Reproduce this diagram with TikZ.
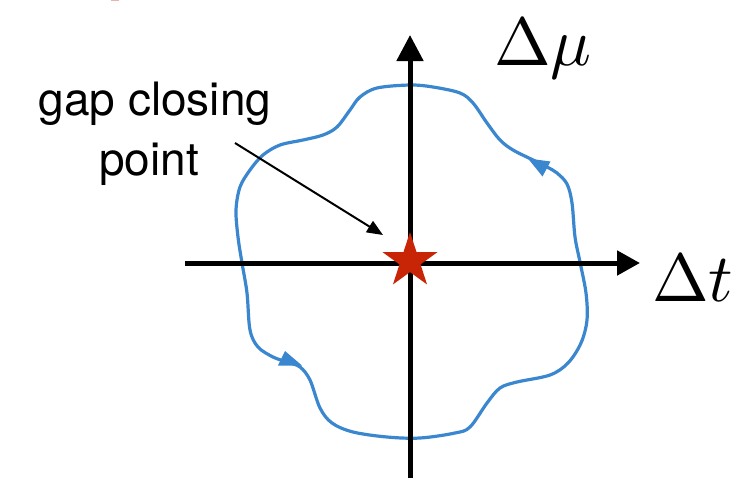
\documentclass[tikz,border=0pt]{standalone}
\usepackage{fontspec}
\usepackage{unicode-math}
\setmathfont{Latin Modern Math}
\newfontfamily\labelfont{TeX Gyre Heros}
\usetikzlibrary{arrows.meta,shapes.geometric}
\definecolor{curveblue}{RGB}{58,135,207}
\definecolor{starred}{RGB}{200,37,6}
\definecolor{pinkmark}{RGB}{240,175,175}
\tikzset{
  axisline/.style={line width=5pt},
  loopline/.style={draw=curveblue, line width=3.2pt},
  looptip/.style={fill=curveblue},
  pointer/.style={line width=2pt, -{Triangle[length=16pt,width=13pt]}},
  caption/.style={font=\labelfont\fontsize{46}{56}\selectfont, inner sep=0pt},
  axlabel/.style={font=\fontsize{68}{72}\selectfont, inner sep=0pt},
  gapstar/.style={star, star points=5, star point ratio=2.618, minimum size=58pt, inner sep=0pt, fill=starred, draw=none},
}
\begin{document}
\begin{tikzpicture}[x=1pt,y=-1pt]
\useasboundingbox (0,0) rectangle (744,491);
\fill[pinkmark] (111,0) rectangle (119,1.2);
% closed loop
\draw[loopline] plot[smooth cycle, tension=0.55] coordinates {
 (410,85) (433,87) (460,93) (473,103) (487,123) (500,140) (513,150) (533,160) (547,167) (557,173) (567,184) (572,203) (575,237) (580,262) (586,293) (587,320) (581,343) (568,363) (550,375) (517,382) (500,388) (487,403) (470,427) (455,433) (420,438) (387,437) (353,432) (332,423) (320,408) (310,380) (300,367) (287,362) (273,357) (258,347) (250,330) (247,293) (242,263) (238,237) (236,210) (240,187) (250,170) (263,155) (280,145) (303,140) (323,135) (337,127) (350,110) (360,97) (377,88)};
\fill[looptip] (528,158.5) -- (550.5,161.5) -- (542.5,176.5) -- cycle;
\fill[looptip] (302,365.5) -- (285,351) -- (278,365.5) -- cycle;
% axes
\coordinate (xl) at (185,263);
\coordinate (xr) at (640,263);
\coordinate (yb) at (410,478);
\coordinate (yt) at (410,35);
\draw[axisline, -{Triangle[length=23pt,width=24pt]}] (xl) -- (xr);
\draw[axisline, -{Triangle[length=26pt,width=26pt]}] (yb) -- (yt);
\node[axlabel, anchor=base west] (mulabel) at (494,65) {$\Delta\mu$};
\node[axlabel, anchor=base west] (tlabel) at (652,301) {$\Delta t$};
% star
\node[gapstar] (gcp) at (410,261) {};
% caption
\node[caption, anchor=base] (cap1) at (155,115.5) {gap closing};
\node[caption, anchor=base] (cap2) at (149,175) {point};
\coordinate (ptrstart) at (235,143);
\coordinate (ptrend) at (383,235);
\draw[pointer] (ptrstart) -- (ptrend);
\end{tikzpicture}
\end{document}
